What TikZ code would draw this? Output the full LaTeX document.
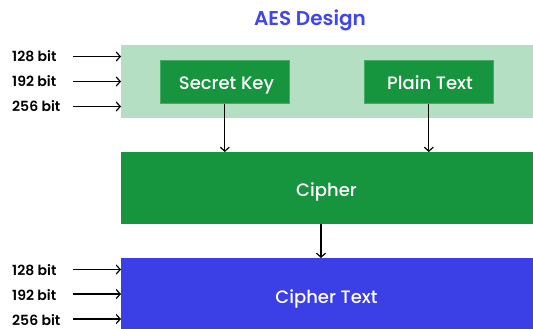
\documentclass[tikz,border=0pt]{standalone}
\usepackage{fontspec}
\setmainfont{Poppins}[UprightFont=*-Medium, BoldFont=*-SemiBold]
\usetikzlibrary{arrows.meta}
\definecolor{lightgreen}{HTML}{B5DFC3}
\definecolor{darkgreen}{HTML}{16953E}
\definecolor{cipherblue}{HTML}{3A40E6}
\definecolor{titleblue}{HTML}{4047E8}
\begin{document}
\begin{tikzpicture}[x=1pt,y=-1pt,
  band/.style={draw=none, inner sep=0pt, anchor=north west, minimum width=412pt},
  boxtext/.style={text=white, font=\fontsize{18}{21}\selectfont, inner sep=0pt, anchor=base},
  inbox/.style={fill=darkgreen, draw=darkgreen!80!white, line width=0.6pt, minimum width=129pt, minimum height=43pt, inner sep=0pt, anchor=north west},
  bitlabel/.style={font=\bfseries\fontsize{14}{16}\selectfont, anchor=base west, inner sep=0pt},
  flow/.style={-{Straight Barb[length=4pt,width=9pt,line width=1.2pt]}, line width=1.2pt, black},
  feed/.style={-{Straight Barb[length=4pt,width=9pt,line width=1.2pt]}, line width=1.2pt, black}
]
\useasboundingbox (0,0) rectangle (533,329);

% title
\node[text=titleblue, font=\bfseries\fontsize{20}{24}\selectfont, inner sep=0pt, anchor=base] (title) at (310,26) {AES Design};

% input band with key and plaintext
\node[band, fill=lightgreen, minimum height=73pt] (inband) at (121,45) {};
\node[inbox] (key) at (160,60) {};
\node[boxtext] (keytxt) at (226.5,89) {Secret Key};
\node[inbox] (plain) at (364,60) {};
\node[boxtext] (plaintxt) at (430,89) {Plain Text};

% cipher stage
\node[band, fill=darkgreen, minimum height=72pt] (cipher) at (121,152) {};
\node[boxtext] (ciphertxt) at (326.5,196) {Cipher};

% output band
\node[band, fill=cipherblue, minimum height=72pt] (out) at (121,258) {};
\node[boxtext] (outtxt) at (326.5,303) {Cipher Text};

% connectors between stages
\draw[flow] (key.south) -- (key.south |- cipher.north);
\draw[flow] (plain.south) -- (plain.south |- cipher.north);
\coordinate (cdrop) at (321,224);
\draw[flow] (cdrop) -- (cdrop |- out.north);

% key sizes feeding the input band
\foreach \y/\b/\t [count=\i] in {56.5/62/128, 81.5/86.5/192, 106.5/111/256} {
  \node[bitlabel] (ib\i) at (12,\b) {\t\ bit};
  \coordinate (ia\i) at (73,\y);
  \draw[feed] (ia\i) -- (ia\i -| inband.west);
}
% key sizes feeding the output band
\foreach \y/\b/\t [count=\i] in {269.5/275/128, 294/300/192, 319/325/256} {
  \node[bitlabel] (ob\i) at (12,\b) {\t\ bit};
  \coordinate (oa\i) at (73,\y);
  \draw[feed] (oa\i) -- (oa\i -| out.west);
}
\end{tikzpicture}
\end{document}
